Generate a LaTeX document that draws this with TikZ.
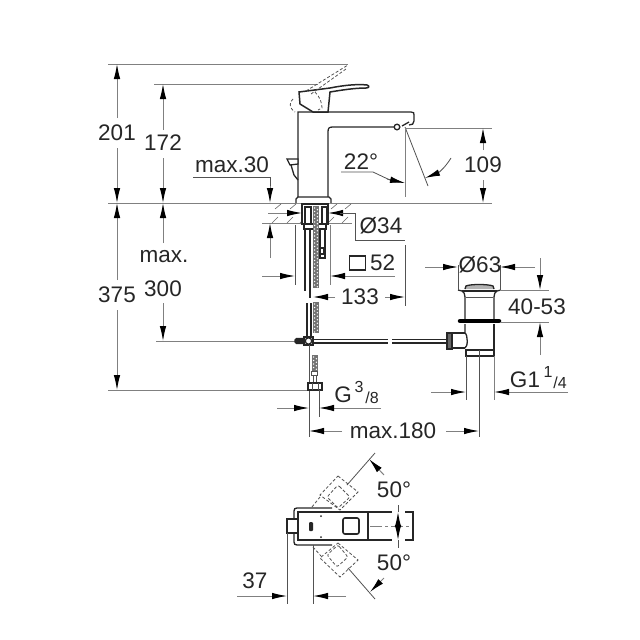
\documentclass[tikz,border=0pt]{standalone}
\usepackage{fontspec}
\setmainfont{Liberation Sans}
\usetikzlibrary{arrows.meta}
\definecolor{dimgray}{gray}{0.5}
\definecolor{inkgray}{gray}{0.15}
\tikzset{
  dimline/.style={draw=dimgray, line width=1pt},
  darrow/.style={dimline, -{Latex[black, length=15pt, width=6.5pt]}},
  thinline/.style={draw=inkgray!80, line width=0.8pt},
  body/.style={draw=inkgray, line width=1.3pt},
  ghost/.style={draw=inkgray!80, line width=0.8pt, dash pattern=on 3pt off 2pt},
  label/.style={text=inkgray, font=\fontsize{22.5}{22.5}\selectfont, inner sep=0pt},
  smalltext/.style={text=inkgray, font=\fontsize{16}{16}\selectfont, inner sep=0pt},
  hatchline/.style={draw=inkgray!70, line width=0.6pt},
  threadfill/.style={fill=inkgray!65},
}
\begin{document}
\begin{tikzpicture}[x=1pt, y=-1pt]
\useasboundingbox (0,0) rectangle (640,640);

% reference lines
\draw [dimline] (108,64) -- (348,64);
\draw [dimline] (154,84) -- (318,84);
\draw [dimline] (108,203) -- (492,203);
\draw [dimline] (405,128) -- (492,128);
\draw [dimline] (108,390) -- (308,390);
\draw [dimline] (156,341) -- (295,341);

% faucet body
\draw [body] (298,198) -- (298,112) -- (411,112) .. controls (414,112) and (414,113) .. (414,115) -- (414,121) .. controls (414,124) and (412,125) .. (409,125);
\draw [body] (400,127) -- (333,127) .. controls (329,127) and (328,128) .. (328,132) -- (328,198);
\draw [body, fill=white] (296,203) -- (296,199) -- (298,197) -- (329,197) -- (331,199) -- (331,203);
\draw [body, fill=white] (397,127) circle (2.8pt);
\draw [body] (402,126) -- (409,122);
\draw [thinline] (405,127) -- (428,186);
\draw [dimline] (405,128) -- (405,197);

% lever
\draw [body, line width=1.5pt] (300,104) -- (299,92) -- (330,88) .. controls (345,85) and (358,84) .. (367,85) .. controls (370,86) and (369,88) .. (366,88) .. controls (355,88) and (342,90) .. (330,92) -- (328,112) -- (313,112) -- cycle;
\draw [ghost] (293,99) .. controls (289,102) and (289,108) .. (295,112);
\draw [ghost] (315,92) .. controls (320,97) and (322,103) .. (322,108) -- (318,110);
\draw [ghost] (306,91) -- (348,65);
\draw [ghost] (311,94) -- (346,69);

% pop-up knob
\draw [body, fill=white] (287,159) -- (298,159) -- (298,164) -- (290,165) -- cycle;
\draw [body] (291,165) -- (294,175) -- (298,180);

% counter
\draw [dimline] (262,223) -- (352,223);
\foreach \xpos in {275,290,303,331,345}{
  \draw [hatchline] (\xpos,209) -- (\xpos+6,204);
  \draw [hatchline] (\xpos-3,223) -- (\xpos+3,217);
}

% fixing block and rods
\draw [body, fill=white] (302,204) rectangle (328,224);
\draw [body, fill=white] (305,207) rectangle (311,224);
\draw [body, fill=white] (322,207) rectangle (327,224);
\draw [body, fill=white] (304,224) -- (326,224) -- (326,229) -- (304,229) -- cycle;
\draw [body] (305,229) -- (305,291);
\draw [body] (310,229) -- (310,298);
\draw [body, fill=white] (320,229) rectangle (325,258);
\draw [body, fill=white] (320,248) rectangle (324,254);
\fill [threadfill] (313,206) rectangle (319,288);
\foreach \ypos in {208,211.5,...,287}{
  \fill [white] (314.6,\ypos) circle (0.8pt);
  \fill [white] (317.4,\ypos+1.7) circle (0.8pt);
}

% rod at the tee
\draw [body] (307,303) -- (307,336);
\draw [body] (311,303) -- (311,336);
\fill [threadfill] (313,302) rectangle (319,333);
\foreach \ypos in {304,307.5,...,332}{
  \fill [white] (314.6,\ypos) circle (0.8pt);
  \fill [white] (317.4,\ypos+1.7) circle (0.8pt);
}
\draw [body, rounded corners=1.5pt, fill=inkgray] (295,338.5) rectangle (304,343.5);
\draw [body, fill=white] (304,337) rectangle (313,345);
\draw [body, fill=white] (308.5,341) circle (3.2pt);
\draw [body] (313,339.5) -- (388,339.5);
\draw [body] (313,343) -- (388,343);
\draw [body] (392,339.5) -- (447,339.5);
\draw [body] (392,343) -- (447,343);
\draw [thinline] (309,345) -- (309,437);

% lower hose
\fill [threadfill] (312,355) rectangle (318,371);
\foreach \ypos in {357,360.5,...,370}{
  \fill [white] (313.6,\ypos) circle (0.8pt);
  \fill [white] (316.4,\ypos+1.7) circle (0.8pt);
}
\draw [thinline, fill=white] (311,371) rectangle (317,375);
\draw [thinline] (313,375) -- (313,382);
\draw [thinline] (316,375) -- (316,382);
\draw [body, fill=white, line width=1.4pt] (308,383) rectangle (322,390);
\draw [thinline] (312,383) -- (312,390);
\draw [thinline] (318,383) -- (318,390);
\draw [thinline] (319,390) -- (319,417);

% drain
\draw [body, fill=inkgray!35] (465,289) -- (466,286) .. controls (470,284) and (488,284) .. (493,286) -- (494,289);
\draw [body] (458,290) -- (462,291) .. controls (464,292) and (465,294) .. (465,297) -- (465,320);
\draw [body] (501,290) -- (497,291) .. controls (495,292) and (494,294) .. (494,297) -- (494,320);
\draw [body] (462,291) -- (497,291);
\draw [thinline] (466,297) -- (493,297);
\draw [draw=black, line width=4.5pt, line cap=round] (460,321) -- (499,321);
\draw [body] (465,324) -- (465,333) .. controls (468,335) and (468,347) .. (465,348);
\draw [body] (494,324) -- (494,350);
\draw [body] (465,333) -- (453,333);
\draw [body] (465,348) -- (453,348);
\draw [body, fill=inkgray!70, line width=1.6pt] (447,333) rectangle (452,349);
\draw [body, fill=white] (466,350) rectangle (494,356);

% extension lines
\draw [thinline] (295,225) -- (295,285);
\draw [dimline] (330,225) -- (330,285);
\draw [thinline] (405,245) -- (405,306);
\draw [thinline] (458,265) -- (458,290);
\draw [thinline] (500,265) -- (500,290);
\draw [dimline] (500,290) -- (549,290);
\draw [dimline] (500,322) -- (549,322);
\draw [thinline] (466,356) -- (466,400);
\draw [dimline] (494,356) -- (494,400);
\draw [thinline] (479,350) -- (479,437);

% dimension 201
\node [label] (dima) at (117,133) {201};
\draw [darrow] (117,118) -- (117,64);
\draw [darrow] (117,148) -- (117,203);
% dimension 172
\node [label] (dimb) at (163,143) {172};
\draw [darrow] (163,130) -- (163,84);
\draw [darrow] (163,158) -- (163,203);
% max.30
\node [label] (dimc) at (232,165) {max.30};
\draw [thinline] (193,177) -- (270,177) -- (270,186);
\draw [darrow] (270,186) -- (270,203);
\draw [darrow] (270,258) -- (270,223);
% 22 degrees
\node [label] (dimd) at (361,162) {22°};
\draw [thinline] (341,172) -- (373,172) -- (392,181);
\draw [-{Latex[black, length=15pt, width=6.5pt]}, thinline] (387,179) -- (405,183);
\draw [-{Latex[black, length=15pt, width=6.5pt]}, thinline] (451,158) .. controls (445,168) and (438,173) .. (425,178);
% 109
\node [label] (dime) at (483,165) {109};
\draw [darrow] (483,150) -- (483,128);
\draw [darrow] (483,180) -- (483,203);
% 34
\node [label] (dimf) at (381,226) {Ø34};
\draw [darrow] (268,213) -- (302,213);
\draw [darrow] (345,213) -- (328,213);
\draw [thinline] (340,213) -- (355,213) -- (355,240) -- (405,240);
% 52
\node [draw=inkgray, line width=1.3pt, minimum width=16pt, minimum height=14pt, inner sep=0pt] (dimg) at (357.5,263) {};
\node [label, anchor=west] (dimh) at (370,263) {52};
\draw [darrow] (262,276) -- (295,276);
\draw [darrow] (395,276) -- (330,276);
% 133
\node [label] (dimi) at (360,297) {133};
\draw [darrow] (335,297) -- (313,297);
\draw [darrow] (385,297) -- (405,297);
% 375
\node [label] (dimj) at (117,295) {375};
\draw [darrow] (117,280) -- (117,203);
\draw [darrow] (117,310) -- (117,390);
% 300
\node [label] (dimk) at (164,257) {max.};
\node [label] (diml) at (163,289) {300};
\draw [darrow] (163,243) -- (163,203);
\draw [darrow] (163,303) -- (163,341);
% G 3/8
\node [label] (dimm) at (343,395) {G};
\node [smalltext] (dimn) at (359,387) {3};
\node [smalltext] (dimo) at (372,398) {/8};
\draw [darrow] (277,408) -- (309,408);
\draw [darrow] (381,408) -- (319,408);
% max.180
\node [label] (dimp) at (393,431) {max.180};
\draw [darrow] (342,431) -- (309,431);
\draw [darrow] (446,431) -- (479,431);
% 63
\node [label] (dimq) at (480,265) {Ø63};
\draw [darrow] (425,267) -- (458,267);
\draw [darrow] (535,267) -- (500,267);
% 40-53
\node [label] (dimr) at (537,307) {40-53};
\draw [darrow] (540,258) -- (540,290);
\draw [darrow] (540,355) -- (540,322);
% G1 1/4
\node [label] (dims) at (525,380) {G1};
\node [smalltext] (dimt) at (548,372) {1};
\node [smalltext] (dimu) at (560,383) {/4};
\draw [darrow] (431,392) -- (466,392);
\draw [darrow] (568,392) -- (494,392);

% top view
\draw [body] (332,508) -- (297,508) .. controls (295,508) and (294,509) .. (294,511) -- (294,542) .. controls (294,544) and (295,545) .. (297,545) -- (332,545);
\draw [body, fill=white] (287,519) rectangle (298,533);
\draw [body, fill=white] (298,512) rectangle (368,540);
\draw [body] (368,512) -- (392,512);
\draw [body] (368,540) -- (392,540);
\draw [body] (405,512) -- (413,512) -- (413,540) -- (405,540);
\draw [body, rounded corners=2pt, line width=1.6pt] (343,518) rectangle (359,534);
\fill [inkgray, rounded corners=1pt] (309,522) rectangle (313,531);
\fill [inkgray] (321,516) circle (1pt);
\fill [inkgray] (321,537) circle (1pt);
\draw [dimline, dash pattern=on 12pt off 3pt on 3pt off 3pt] (370,526) -- (410,526);
\draw [darrow] (398,526) -- (398,512);
\draw [darrow] (398,526) -- (398,540);
\draw [thinline] (398,505) -- (398,512);
\draw [thinline] (398,540) -- (398,548);

% turned handle positions
\draw [ghost] (338,476) -- (358,492) -- (340,510) -- (320,495) -- cycle;
\draw [ghost, rounded corners=2pt] (338,485) -- (350,497) -- (338,508) -- (327,497) -- cycle;
\draw [ghost] (338,543) -- (358,560) -- (340,577) -- (320,558) -- cycle;
\draw [ghost, rounded corners=2pt] (338,545) -- (348,557) -- (337,567) -- (327,555) -- cycle;
\draw [ghost] (312,507) -- (320,497);
\draw [ghost] (313,547) -- (321,556);
\draw [thinline] (347,485) -- (375,453);
\draw [thinline] (348,568) -- (375,599);
\draw [darrow] (384,475) -- (369,459);
\draw [darrow] (384,578) -- (370,592);
\node [label] (dimv) at (394,490) {50°};
\node [label] (dimw) at (394,563) {50°};

% 37
\node [label] (dimx) at (255,581) {37};
\draw [thinline] (287,533) -- (287,604);
\draw [thinline] (313,545) -- (313,604);
\draw [darrow] (237,596) -- (287,596);
\draw [darrow] (346,596) -- (313,596);
\end{tikzpicture}
\end{document}
